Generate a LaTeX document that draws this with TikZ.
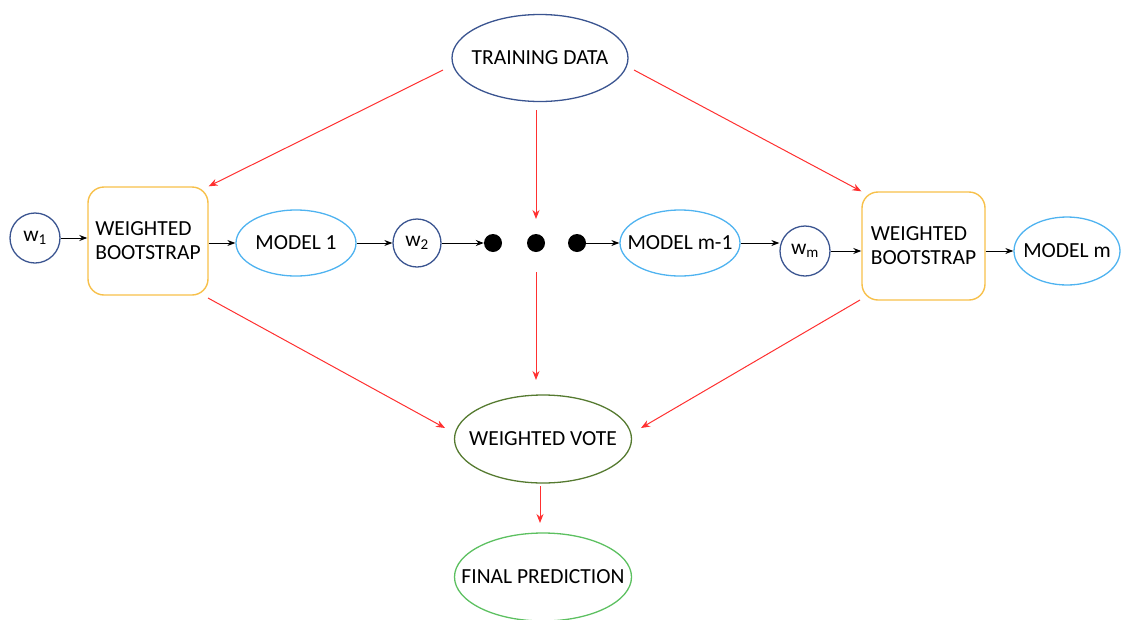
\documentclass[tikz,border=0pt]{standalone}
\usepackage{fontspec}
\setmainfont{Carlito}
\usetikzlibrary{arrows.meta,shapes.geometric}
\definecolor{navy}{HTML}{3A5490}
\definecolor{lblue}{HTML}{4FB3F0}
\definecolor{orng}{HTML}{F7C04A}
\definecolor{olive}{HTML}{557A30}
\definecolor{grn}{HTML}{5CC060}
\definecolor{redc}{HTML}{FF3030}
\begin{document}
\begin{tikzpicture}[x=1pt,y=-1pt,
  every node/.style={font=\fontsize{21.5}{24}\selectfont, text=black, inner sep=0pt},
  ell/.style={ellipse, draw, line width=1.3pt},
  wcirc/.style={circle, draw=navy, line width=1.3pt, minimum size=50pt},
  wbox/.style={rectangle, rounded corners=16pt, draw=orng, line width=1.4pt, align=left},
  dot/.style={circle, fill=black, minimum size=18pt},
  blk/.style={-{Stealth[length=8pt,width=6pt]}, line width=1pt, black},
  red/.style={-{Stealth[length=9pt,width=7pt]}, line width=1pt, redc}]
\useasboundingbox (0,0) rectangle (1136,619);
\node[ell, draw=navy, minimum width=176pt, minimum height=87pt, label=center:TRAINING DATA] (td) at (540,58) {};
\node[wcirc] (w1) at (35,238) {w\textsubscript{1}};
\node[wbox, minimum width=120pt, minimum height=108pt] (wb1) at (148,241) {WEIGHTED\\BOOTSTRAP};
\node[ell, draw=lblue, minimum width=120pt, minimum height=66pt, label=center:MODEL 1] (m1) at (296,243) {};
\node[wcirc, minimum size=48pt] (w2) at (417,243) {w\textsubscript{2}};
\node[dot] (d1) at (493,243) {};
\node[dot] (d2) at (536,243) {};
\node[dot] (d3) at (577,243) {};
\node[ell, draw=lblue, minimum width=120pt, minimum height=66pt, label=center:MODEL m-1] (mm1) at (680,243) {};
\node[wcirc] (wm) at (805,251) {w\textsubscript{m}};
\node[wbox, minimum width=123pt, minimum height=108pt] (wb2) at (923.5,246) {WEIGHTED\\BOOTSTRAP};
\node[ell, draw=lblue, minimum width=106pt, minimum height=68pt, label=center:MODEL m] (mm) at (1067,251) {};
\node[ell, draw=olive, minimum width=177pt, minimum height=88pt, label=center:WEIGHTED VOTE] (wv) at (543,439) {};
\node[ell, draw=grn, minimum width=177pt, minimum height=88pt, label=center:FINAL PREDICTION] (fp) at (543,577) {};
% free ends
\coordinate (a1) at (443,70);
\coordinate (a2) at (536,110);
\coordinate (a2e) at (536,219);
\coordinate (a3) at (634,70);
\coordinate (b1) at (208,298);
\coordinate (b1e) at (445,428);
\coordinate (b2) at (536,272);
\coordinate (b2e) at (536,380);
\coordinate (b3) at (860,300);
\coordinate (b3e) at (641,428);
\coordinate (c1) at (540,486);
\coordinate (c1e) at (540,523);
% black chain
\draw[blk] (w1) -- (wb1.west |- w1);
\draw[blk] (wb1.east |- m1) -- (m1);
\draw[blk] (m1) -- (w2);
\draw[blk] (w2) -- (d1);
\draw[blk] (d3.center) -- (mm1.west);
\draw[blk] (mm1.east) -- (mm1.east -| wm.west);
\draw[blk] (wm) -- (wb2.west |- wm);
\draw[blk] (wb2.east |- mm) -- (mm);
% red arrows
\draw[red] (a1) -- (wb1.north east);
\draw[red] (a2) -- (a2e);
\draw[red] (a3) -- (wb2.north west);
\draw[red] (b1) -- (b1e);
\draw[red] (b2) -- (b2e);
\draw[red] (b3) -- (b3e);
\draw[red] (c1) -- (c1e);
\end{tikzpicture}
\end{document}
